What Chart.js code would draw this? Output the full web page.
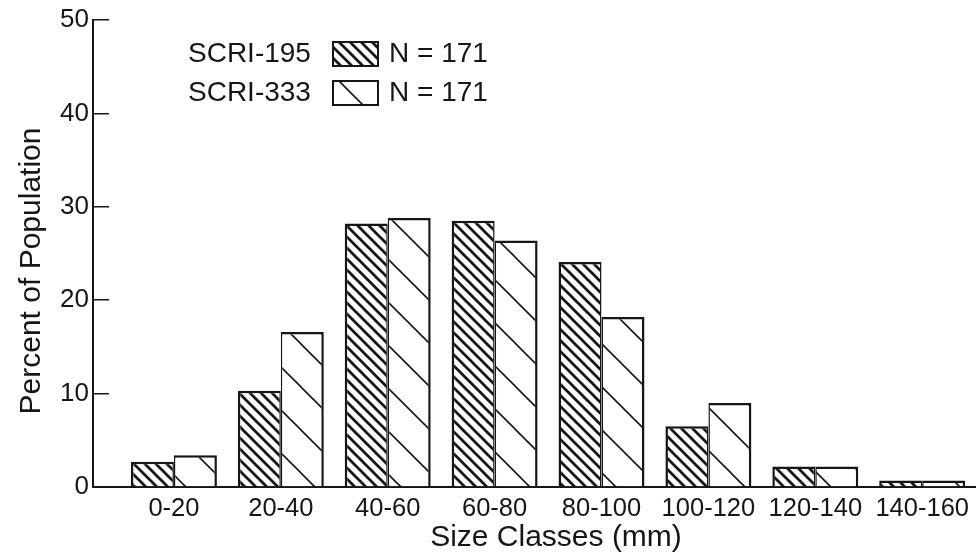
<!DOCTYPE html>
<html>
<head>
<meta charset="utf-8">
<script src="https://cdn.jsdelivr.net/npm/chart.js@4.4.1/dist/chart.umd.min.js"></script>
<style>
html, body { margin: 0; padding: 0; background: #fff; }
</style>
</head>
<body>
<canvas id="sizeChart" width="976" height="555"></canvas>
<script>
// data
var sizeClasses = ['0-20', '20-40', '40-60', '60-80', '80-100', '100-120', '120-140', '140-160'];
var scri195 = [2.7, 10.3, 28.2, 28.5, 24.1, 6.5, 2.2, 0.7];
var scri333 = [3.4, 16.6, 28.8, 26.4, 18.2, 9.0, 2.2, 0.7];
var seriesNames = ['SCRI-195', 'SCRI-333'];
var seriesN = [171, 171];
var yTicks = [0, 10, 20, 30, 40, 50];
var xTitle = 'Size Classes (mm)';
var yTitle = 'Percent of Population';

var ink = '#161616';
var fontFamily = '"Liberation Sans", Arial, Helvetica, sans-serif';
Chart.defaults.font.family = fontFamily;
Chart.defaults.color = ink;

var ctx = document.getElementById('sizeChart').getContext('2d');

// diagonal "\" hatch, white ground
function hatch(step, width) {
    var c = document.createElement('canvas');
    c.width = step;
    c.height = step;
    var g = c.getContext('2d');
    g.fillStyle = '#fff';
    g.fillRect(0, 0, step, step);
    g.strokeStyle = ink;
    g.lineWidth = width;
    for (var k = -1; k <= 1; k++) {
        g.beginPath();
        g.moveTo(-3, -3 + k * step);
        g.lineTo(step + 3, step + 3 + k * step);
        g.stroke();
    }
    return ctx.createPattern(c, 'repeat');
}

var denseHatch = hatch(11, 2.7);
var sparseHatch = hatch(43, 1.6);

function points(vals) {
    return vals.map(function(v, i) { return { x: i, y: v }; });
}

// legend drawn by hand: label, swatch, N
var legendRows = {
    id: 'legendRows',
    afterDraw: function(chart) {
        var c = chart.ctx;
        c.save();
        c.font = '28px ' + fontFamily;
        c.textBaseline = 'middle';
        chart.data.datasets.forEach(function(ds, i) {
            var y = 54 + i * 39;
            c.fillStyle = ink;
            c.fillText(ds.label, 188, y);
            c.fillStyle = ds.backgroundColor;
            c.fillRect(333, y - 12, 45, 24);
            c.strokeStyle = ink;
            c.lineWidth = 2;
            c.strokeRect(333, y - 12, 45, 24);
            c.fillStyle = ink;
            c.fillText('N = ' + seriesN[i], 389, y);
        });
        c.restore();
    }
};

// axis titles sit off-centre in the original, so place them here
var axisTitles = {
    id: 'axisTitles',
    afterDraw: function(chart) {
        var c = chart.ctx;
        c.save();
        c.fillStyle = ink;
        c.textAlign = 'center';
        c.textBaseline = 'middle';
        c.font = '30px ' + fontFamily;
        c.fillText(xTitle, 556, 538);
        c.translate(32, 271);
        c.rotate(-Math.PI / 2);
        c.fillText(yTitle, 0, 0);
        c.restore();
    }
};

var sizeChart = new Chart(ctx, {
    type: 'bar',
    data: {
        datasets: [{
            label: seriesNames[0],
            data: points(scri195),
            backgroundColor: denseHatch,
            borderColor: ink,
            borderWidth: { top: 2.5, left: 2.5, right: 1.5, bottom: 0 },
            categoryPercentage: 0.804,
            barPercentage: 1
        }, {
            label: seriesNames[1],
            data: points(scri333),
            backgroundColor: sparseHatch,
            borderColor: ink,
            borderWidth: { top: 2.5, left: 1.5, right: 2.5, bottom: 0 },
            categoryPercentage: 0.804,
            barPercentage: 1
        }]
    },
    options: {
        responsive: false,
        animation: false,
        layout: { padding: { top: 20, left: 0, right: 0, bottom: 0 } },
        plugins: {
            legend: { display: false },
            tooltip: { enabled: false }
        },
        scales: {
            x: {
                type: 'linear',
                bounds: 'data',
                offset: false,
                min: -0.757,
                max: 7.495,
                afterBuildTicks: function(s) {
                    s.ticks = sizeClasses.map(function(c, i) { return { value: i }; });
                },
                afterFit: function(s) { s.height = 68; },
                ticks: {
                    callback: function(v) { return sizeClasses[v]; },
                    autoSkip: false,
                    maxRotation: 0,
                    padding: 7,
                    font: { size: 25.5 }
                },
                grid: { display: false, drawTicks: false },
                border: { display: true, color: ink, width: 2 }
            },
            y: {
                min: 0,
                max: 50,
                afterBuildTicks: function(s) {
                    s.ticks = yTicks.map(function(v) { return { value: v }; });
                },
                afterFit: function(s) {
                    s.width = 93;
                    s.paddingTop = 0;
                    s.paddingBottom = 0;
                },
                ticks: { padding: 20, font: { size: 26 } },
                grid: {
                    drawOnChartArea: false,
                    drawTicks: true,
                    tickLength: -16,
                    color: ink,
                    lineWidth: 1.5
                },
                border: { color: ink, width: 2 }
            }
        }
    },
    plugins: [legendRows, axisTitles]
});
</script>
</body>
</html>
